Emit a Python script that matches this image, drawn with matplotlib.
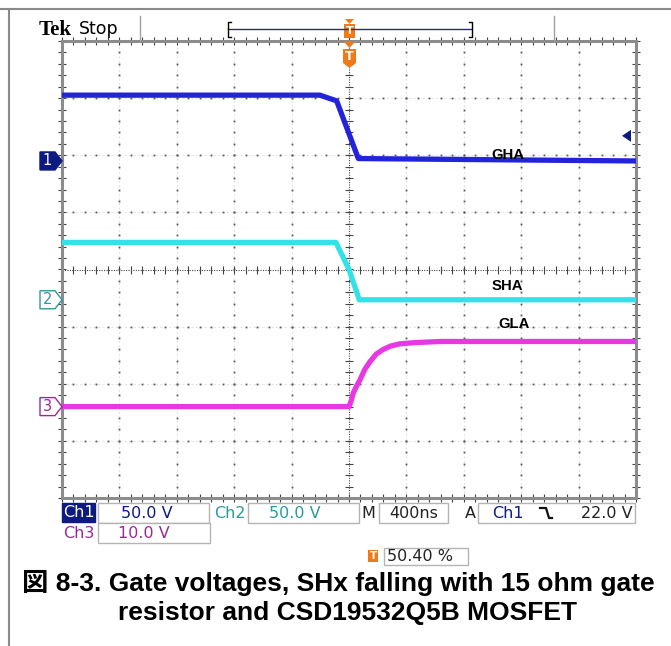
import numpy as np
import matplotlib.pyplot as plt
from matplotlib.patches import Polygon, Rectangle
from matplotlib.lines import Line2D

W, H = 671, 646

# scope settings
time_per_div = 400          # ns/div
ch_scale = [50.0, 50.0, 10.0]   # V/div
ch_offset = [1.9, -0.53, -2.40]  # ground marker position, div
trig_level = 22.0           # V on Ch1

# traces (ns, V)
ch1_t = [-2000, -203, -86, 65, 2000]
ch1_v = [57.6, 57.6, 52.6, 2.1, 0.0]
ch2_t = [-2000, -91, 0, 72, 2000]
ch2_v = [50.2, 50.2, 26.5, 0.0, 0.0]
ch3_t = [-2000, 0, 15, 30, 55, 77, 110, 147, 190, 238, 290, 357, 460, 636, 2000]
ch3_v = [0.0, 0.0, 1.0, 2.4, 3.7, 4.7, 6.5, 7.9, 9.2, 10.0, 10.6, 11.0, 11.2, 11.4, 11.4]

trace_names = ['GHA', 'SHA', 'GLA']
name_t = [1105, 1105, 1147]
name_v = [4.8, 12.0, 14.4]

ch_color = ['#2323dc', '#33e2e8', '#e838e4']
mark_color = ['#0d1a80', '#2a9a9a', '#9a2a96']

caption1 = '図 8-3. Gate voltages, SHx falling with 15 ohm gate'
caption2 = 'resistor and CSD19532Q5B MOSFET'

plt.rcParams['font.family'] = ['DejaVu Sans']


def px(x, y):
    return x / W, 1 - y / H


def to_div(v, ch):
    return ch_offset[ch] + np.asarray(v) / ch_scale[ch]


fig = plt.figure(figsize=(W / 100, H / 100), dpi=100)

# page frame lines
fig.add_artist(Line2D([0, 1], [px(0, 9)[1]] * 2, color='#8a8a8a', lw=1.5))
fig.add_artist(Line2D([px(9, 0)[0]] * 2, [px(0, 9)[1], 0], color='#8a8a8a', lw=1.5))

x0, y0 = px(62, 498)
x1, y1 = px(636, 41)
ax = fig.add_axes([x0, y0, x1 - x0, y1 - y0])
ax.set_xlim(-5 * time_per_div, 5 * time_per_div)
ax.set_ylim(-4, 4)
ax.axis('off')

# graticule
dot = dict(ls='none', marker='s', ms=1.3, color='#5a5a5a', mew=0, zorder=1)
yy = np.arange(-4, 4.01, 0.2)
xx = np.arange(-5, 5.01, 0.2) * time_per_div
for i in range(-4, 5):
    if i == 0:
        continue
    ax.plot([i * time_per_div] * len(yy), yy, **dot)
    ax.axvline(i * time_per_div, color='#e4e4e4', lw=0.8, ls=(0, (2, 2)), zorder=0)
for j in range(-3, 4):
    if j == 0:
        continue
    ax.plot(xx, [j] * len(xx), **dot)
    ax.axhline(j, color='#e4e4e4', lw=0.8, ls=(0, (2, 2)), zorder=0)
ax.axvline(0, color='#444', lw=0.8, ls=(0, (1, 1.2)), zorder=1)
ax.axhline(0, color='#444', lw=0.8, ls=(0, (1, 1.2)), zorder=1)
ax.plot([0] * len(yy), yy, ls='none', marker='_', ms=6, color='#444', mew=0.8, zorder=1)
ax.plot(xx, [0] * len(xx), ls='none', marker='|', ms=6, color='#444', mew=0.8, zorder=1)
# border ticks
for yb in (-4, 4):
    ax.plot(xx, [yb] * len(xx), ls='none', marker='|', ms=6, color='#444', mew=0.8, clip_on=False, zorder=1)
for xb in (-5, 5):
    ax.plot([xb * time_per_div] * len(yy), yy, ls='none', marker='_', ms=6, color='#444', mew=0.8, clip_on=False, zorder=1)
ax.add_patch(Rectangle((0, 0), 1, 1, transform=ax.transAxes, fill=False,
                       ec='#8c8c8c', lw=2.2, clip_on=False, zorder=3))

# traces
for k, (t, v) in enumerate([(ch1_t, ch1_v), (ch2_t, ch2_v), (ch3_t, ch3_v)]):
    ax.plot(t, to_div(v, k), color=ch_color[k], lw=3.8, zorder=5,
            solid_capstyle='butt', solid_joinstyle='round')

for k, name in enumerate(trace_names):
    ax.text(name_t[k], to_div(name_v[k], k), name, ha='center', va='center',
            fontsize=10.7, fontweight='bold', family='Liberation Sans', zorder=6)

# channel ground markers on the left
ty = ax.get_yaxis_transform()
ax_w = (636 - 62)
div_px = (498 - 41) / 8
bx0, bx1 = (40 - 62) / ax_w, (55 - 62) / ax_w
hh = 9 / div_px
for k in range(3):
    yc = ch_offset[k]
    shape = [(bx0, yc - hh), (bx1, yc - hh), (0, yc), (bx1, yc + hh), (bx0, yc + hh)]
    filled = k == 0
    ax.add_patch(Polygon(shape, closed=True, transform=ty, clip_on=False,
                         fc=mark_color[k] if filled else 'white',
                         ec=mark_color[k], lw=1.0, zorder=6))
    ax.text((bx0 + bx1) / 2, yc, str(k + 1), transform=ty, ha='center', va='center',
            fontsize=10.5, color='white' if filled else mark_color[k], zorder=7)

# trigger level arrow on the right
tl = to_div(trig_level, 0)
ax.add_patch(Polygon([((622 - 62) / ax_w, tl), ((631 - 62) / ax_w, tl - 6 / div_px),
                      ((631 - 62) / ax_w, tl + 6 / div_px)], closed=True, transform=ty,
                     fc=mark_color[0], ec='none', zorder=6))

# top bar: Tek Stop, record view, trigger position
fig.text(*px(39, 30), 'Tek', fontsize=15, fontweight='bold', family='Liberation Serif',
         va='center', ha='left')
fig.text(*px(79, 28.5), 'Stop', fontsize=12.5, va='center', ha='left')
for xs in (140, 554):
    fig.add_artist(Line2D([px(xs, 0)[0]] * 2, [px(0, 16)[1], px(0, 41)[1]],
                          color='#a0a0a0', lw=1))
fig.add_artist(Line2D([px(228, 0)[0], px(472, 0)[0]], [px(0, 29)[1]] * 2,
                      color='#2a2a7a', lw=1))
for xs, d in ((228, 3), (472, -3)):
    xsb = [px(xs + d, 0)[0], px(xs, 0)[0], px(xs, 0)[0], px(xs + d, 0)[0]]
    ysb = [px(0, 22)[1], px(0, 22)[1], px(0, 37)[1], px(0, 37)[1]]
    fig.add_artist(Line2D(xsb, ysb, color='black', lw=1))

orange = '#f07a1a'
# small T in the record bar
fig.add_artist(Polygon([px(345, 19), px(354, 19), px(349.5, 24)], closed=True, fc=orange, ec='none'))
fig.add_artist(Rectangle(px(344, 38), 11 / W, 14 / H, fc=orange, ec='none'))
fig.text(*px(349.5, 31), 'T', color='white', fontsize=8, fontweight='bold',
         ha='center', va='center')
# big T below the top edge
fig.add_artist(Polygon([px(344, 42), px(355, 42), px(349.5, 48)], closed=True, fc=orange, ec='none'))
fig.add_artist(Polygon([px(343, 49), px(356, 49), px(356, 63), px(349.5, 68), px(343, 63)],
                       closed=True, fc=orange, ec='none'))
fig.text(*px(349.5, 57), 'T', color='white', fontsize=9, fontweight='bold',
         ha='center', va='center')


# readouts
def box(xa, ya, xb, yb, fc='white', ec='#b4b4b4'):
    fig.add_artist(Rectangle(px(xa, yb), (xb - xa) / W, (yb - ya) / H, fc=fc, ec=ec, lw=1))


rd = dict(fontsize=11.5, va='center')
box(62, 503, 95, 522, fc=mark_color[0], ec=mark_color[0])
fig.text(*px(78.5, 512.5), 'Ch1', color='white', ha='center', **rd)
box(98, 503, 209, 523)
fig.text(*px(147, 513), '50.0 V', color=mark_color[0], ha='center', **rd)
fig.text(*px(229.5, 513), 'Ch2', color=mark_color[1], ha='center', **rd)
box(248, 503, 359, 523)
fig.text(*px(295, 513), '50.0 V', color=mark_color[1], ha='center', **rd)
fig.text(*px(368.5, 513), 'M', color='#222', ha='center', **rd)
box(379, 503, 448, 523)
fig.text(*px(414, 513), '400ns', color='#222', ha='center', **rd)
fig.text(*px(470, 513), 'A', color='#222', ha='center', **rd)
box(478, 503, 635, 523)
fig.text(*px(508, 513), 'Ch1', color=mark_color[0], ha='center', **rd)
fig.add_artist(Line2D([px(540, 0)[0], px(546, 0)[0], px(549, 0)[0], px(552, 0)[0]],
                      [px(0, 508)[1], px(0, 508)[1], px(0, 518)[1], px(0, 518)[1]],
                      color='#111', lw=1.6))
fig.text(*px(633, 513), '22.0 V', color='#222', ha='right', **rd)
fig.text(*px(78.5, 533), 'Ch3', color=mark_color[2], ha='center', **rd)
box(98, 523, 210, 543)
fig.text(*px(144, 533), '10.0 V', color=mark_color[2], ha='center', **rd)
fig.add_artist(Rectangle(px(368, 562), 10 / W, 12 / H, fc=orange, ec='none'))
fig.text(*px(373, 556), 'T', color='white', fontsize=7.5, fontweight='bold', ha='center', va='center')
box(384, 548, 468, 565)
fig.text(*px(387, 556.5), '50.40 %', color='#222', ha='left', **rd)

# caption
cap = dict(fontsize=19, fontweight='bold', family=['Liberation Sans', 'Noto Sans CJK JP'],
           va='center')
fig.text(*px(22, 583), caption1, ha='left', **cap)
fig.text(*px(348, 613), caption2, ha='center', **cap)

fig.savefig('out.png', dpi=100)
